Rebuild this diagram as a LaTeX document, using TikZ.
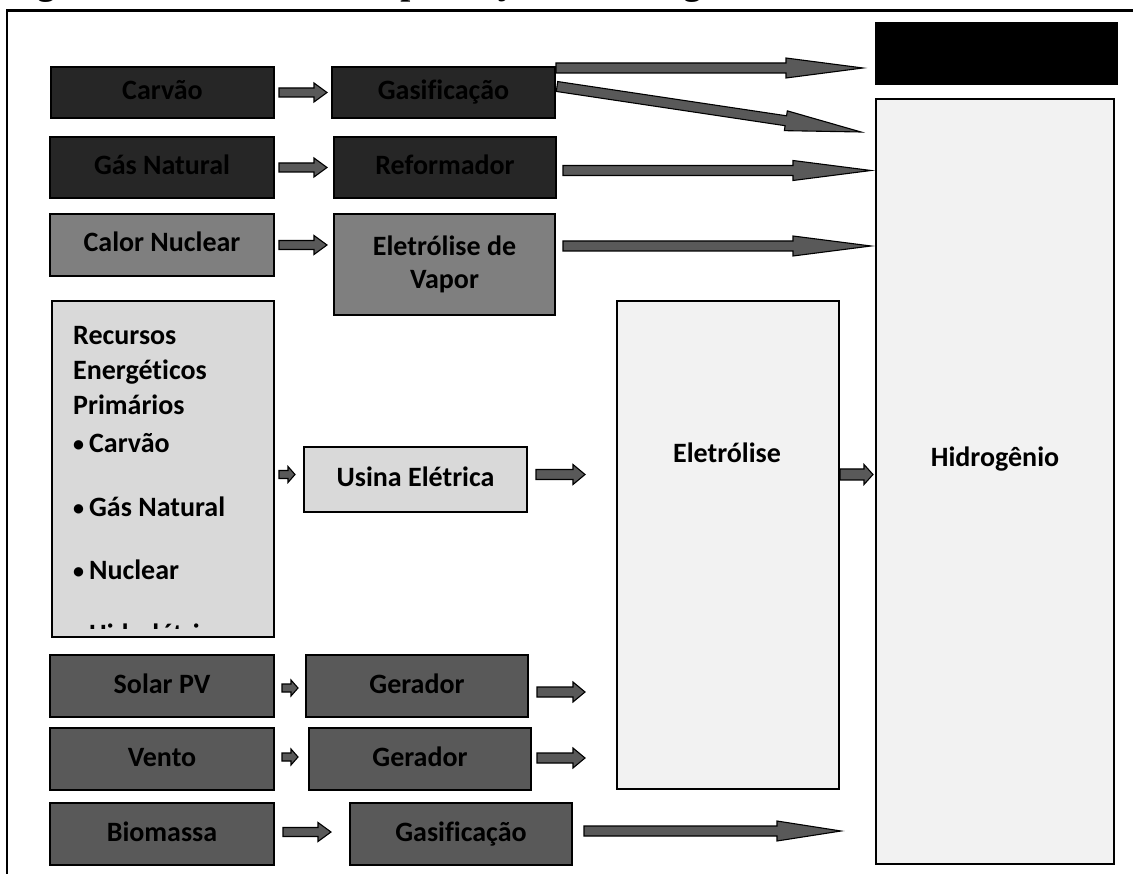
\documentclass[tikz,border=0pt]{standalone}
\usepackage{fontspec}
\setmainfont{Carlito}[Ligatures=NoCommon]
\newfontfamily\titlefont{Liberation Serif}
\usetikzlibrary{calc}

\definecolor{cdark}{HTML}{262626}
\definecolor{cmid}{HTML}{7F7F7F}
\definecolor{cgray}{HTML}{595959}
\definecolor{clight}{HTML}{D9D9D9}
\definecolor{cpale}{HTML}{F2F2F2}
\definecolor{carrow}{HTML}{595959}

\tikzset{
  boxbase/.style={draw=black, line width=1.4pt, inner sep=0pt, outer sep=0pt,
    font=\bfseries\fontsize{28}{33}\selectfont, align=center},
  box/.style={boxbase, text height=21pt, text depth=7pt},
  barrow/.style={draw=black, fill=carrow, line width=1.1pt, line join=miter},
  frameline/.style={draw=black, line width=2.6pt},
  bigtext/.style={font=\bfseries\fontsize{28}{33}\selectfont, inner sep=0pt},
}

% box by corners: name, style, x1, y1, x2, y2, text
\newcommand{\bx}[7]{%
  \node[#2, minimum width={(#5-#3)*1pt}, minimum height={(#6-#4)*1pt}]
    (#1) at ({(#3+#5)/2},{(#4+#6)/2}) {#7};}

\newcommand{\blockarr}[5]{%
  \coordinate (ba-b) at ($(#2)!#5!(#1)$);
  \draw[barrow] ($(#1)!#3!90:(#2)$) -- ($(ba-b)!#3!90:(#2)$) -- ($(ba-b)!#4!90:(#2)$)
    -- (#2) -- ($(ba-b)!#4!-90:(#2)$) -- ($(ba-b)!#3!-90:(#2)$) -- ($(#1)!#3!-90:(#2)$) -- cycle;
}

\newcommand{\bul}{{\fontsize{22}{22}\selectfont\raisebox{1pt}{•}}\hspace{5pt}}

\begin{document}
\begin{tikzpicture}[x=1pt,y=-1pt]
\useasboundingbox (0,0) rectangle (1133,874);
\fill[white] (0,0) rectangle (1133,874);

% cropped title
\node[anchor=base west, inner sep=0pt, font=\titlefont\bfseries\fontsize{36}{36}\selectfont] (title) at (5,-5) {Figura 2.1 – Processos de produção de hidrogênio};

% frame
\draw[frameline] (7,876) -- (7,10.5) -- (1135,10.5);

% boxes
\bx{carvao}{box, fill=cdark}{51}{67}{274}{118}{Carvão}
\bx{gas1}{box, fill=cdark}{332}{67}{555}{118}{Gasificação}
\bx{gasnat}{box, fill=cdark}{50}{137}{274}{198}{Gás Natural}
\bx{reform}{box, fill=cdark}{334}{137}{556}{198}{Reformador}
\bx{calor}{box, fill=cmid}{50}{214}{274}{276}{Calor Nuclear}
\bx{elvap}{boxbase, fill=cmid}{334}{214}{555}{315}{Eletrólise de\\Vapor}
\bx{recursos}{boxbase, fill=clight}{52}{301}{274}{637}{}
\bx{usina}{box, fill=clight}{304}{447}{527}{512}{Usina Elétrica}
\bx{eletr}{boxbase, fill=cpale, line width=1.2pt}{617}{301}{839}{789}{}
\bx{hidro}{boxbase, fill=cpale, line width=1.2pt}{876}{99}{1114}{864}{}
\bx{blackbox}{boxbase, fill=black}{876}{23}{1117}{84}{}
\bx{solar}{box, fill=cgray}{50}{655}{274}{717}{Solar PV}
\bx{ger1}{box, fill=cgray}{306}{655}{528}{717}{Gerador}
\bx{vento}{box, fill=cgray}{50}{728}{274}{790}{Vento}
\bx{ger2}{box, fill=cgray}{309}{728}{531}{790}{Gerador}
\bx{biomassa}{box, fill=cgray}{50}{803}{274}{865}{Biomassa}
\bx{gas2}{box, fill=cgray}{350}{803}{572}{865}{Gasificação}

% texts inside tall boxes
\node[bigtext, anchor=base] (eletrtxt) at (727,463) {Eletrólise};
\node[bigtext, anchor=base] (hidrotxt) at (995,467) {Hidrogênio};
\begin{scope}
  \clip (53,302) rectangle (273,628);
  \node[bigtext, anchor=north west, align=left, font=\bfseries\fontsize{28}{35}\selectfont] (rectxt) at (73,326)
    {Recursos\\Energéticos\\Primários\\[3pt]\bul Carvão\\[29pt]\bul Gás Natural\\[28pt]\bul Nuclear\\[29pt]\bul Hidrelétrica};
\end{scope}

% arrow end points
\coordinate (a1s) at ($(carvao.east)+(5,0)$);
\coordinate (a1e) at ($(gas1.west)+(-5,0)$);
\coordinate (t1s) at ($(gas1.north east)+(1,1)$);
\coordinate (t1e) at ($(blackbox.south west)+(-13,-16)$);
\coordinate (d1s) at ($(gas1.east)+(2,-6)$);
\coordinate (d1e) at ($(hidro.north west)+(-15,33)$);
\coordinate (a2s) at ($(gasnat.east)+(5,0)$);
\coordinate (a2e) at ($(reform.west)+(-7,0)$);
\coordinate (r2s) at ($(reform.east)+(7,3)$);
\coordinate (r2e) at ($(r2s -| hidro.west)+(-5,0)$);
\coordinate (a3s) at ($(calor.east)+(5,0)$);
\coordinate (a3e) at ($(a3s -| elvap.west)+(-7,0)$);
\coordinate (e3s) at ($(elvap.east)+(8,-18.5)$);
\coordinate (e3e) at ($(e3s -| hidro.west)+(-5,0)$);
\coordinate (rus) at ($(usina.west -| recursos.east)+(5,-5)$);
\coordinate (rue) at ($(usina.west)+(-9,-5)$);
\coordinate (ues) at ($(usina.east)+(9,-5)$);
\coordinate (uee) at ($(usina.east -| eletr.west)+(-32,-5)$);
\coordinate (ehs) at ($(usina.east -| eletr.east)+(1,-5)$);
\coordinate (ehe) at ($(usina.east -| hidro.west)+(-3,-5)$);
\coordinate (sgs) at ($(solar.east)+(8,2)$);
\coordinate (sge) at ($(solar.east)+(24,2)$);
\coordinate (g1s) at ($(ger1.east)+(9,6)$);
\coordinate (g1e) at ($(g1s -| eletr.west)+(-32,0)$);
\coordinate (vgs) at ($(vento.east)+(8,-2)$);
\coordinate (vge) at ($(vento.east)+(24,-2)$);
\coordinate (g2s) at ($(ger2.east)+(6,-1)$);
\coordinate (g2e) at ($(g2s -| eletr.west)+(-32,0)$);
\coordinate (bgs) at ($(biomassa.east)+(9,-2)$);
\coordinate (bge) at ($(bgs)+(48,0)$);
\coordinate (b2s) at ($(gas2.east)+(12,-3)$);
\coordinate (b2e) at ($(b2s -| hidro.west)+(-35,0)$);

% arrows
\blockarr{a1s}{a1e}{4.5pt}{9.5pt}{13pt}
\blockarr{t1s}{t1e}{5pt}{10pt}{77pt}
\blockarr{d1s}{d1e}{5pt}{10pt}{76pt}
\blockarr{a2s}{a2e}{4.5pt}{9.5pt}{13pt}
\blockarr{r2s}{r2e}{5pt}{10pt}{78pt}
\blockarr{a3s}{a3e}{4.5pt}{9.5pt}{13pt}
\blockarr{e3s}{e3e}{5pt}{10pt}{78pt}
\blockarr{rus}{rue}{4pt}{8pt}{7pt}
\blockarr{ues}{uee}{5pt}{10pt}{12pt}
\blockarr{ehs}{ehe}{5.5pt}{10pt}{9pt}
\blockarr{sgs}{sge}{4pt}{8pt}{7pt}
\blockarr{g1s}{g1e}{5pt}{10pt}{12pt}
\blockarr{vgs}{vge}{4pt}{8pt}{7pt}
\blockarr{g2s}{g2e}{5pt}{10pt}{12pt}
\blockarr{bgs}{bge}{4.5pt}{9.5pt}{13pt}
\blockarr{b2s}{b2e}{5pt}{10pt}{64pt}
\end{tikzpicture}
\end{document}
